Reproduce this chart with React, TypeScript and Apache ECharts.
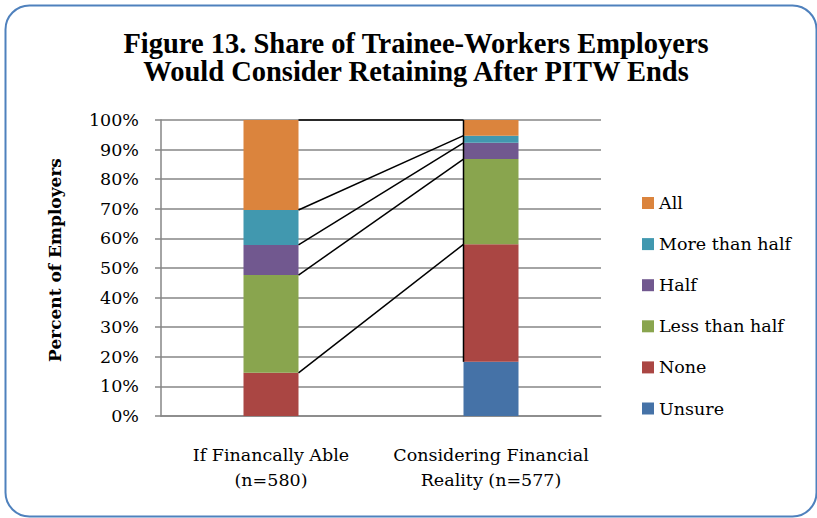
import React, { useEffect, useRef } from "react";
import * as echarts from "echarts";

const categories = ["If Financally Able\n(n=580)", "Considering Financial\nReality (n=577)"];
const seriesNames = ["Unsure", "None", "Less than half", "Half", "More than half", "All"];
const unsure = [0, 18.3];
const none = [14.6, 39.7];
const lessThanHalf = [33.0, 28.8];
const half = [10.2, 5.5];
const moreThanHalf = [11.8, 2.4];
const all = [30.4, 5.3];
const yTicks = ["0%", "10%", "20%", "30%", "40%", "50%", "60%", "70%", "80%", "90%", "100%"];
const colors = ["#4572A7", "#AA4643", "#89A54E", "#71588F", "#4198AF", "#DB843D"];

const FONT = "DejaVu Serif";
const FS = 17.5;

export default function App() {
  const ref = useRef<HTMLDivElement>(null);
  useEffect(() => {
    if (!ref.current) return;
    const chart = echarts.init(ref.current, null, { renderer: "svg" });
    const values = [unsure, none, lessThanHalf, half, moreThanHalf, all];
    const tops: number[][] = [];
    let acc = [0, 0];
    values.forEach((v) => {
      acc = [acc[0] + v[0], acc[1] + v[1]];
      tops.push([...acc]);
    });
    const lineData: number[][] = [];
    for (let i = 1; i < tops.length; i++) {
      lineData.push([0, tops[i][0], 1, tops[i][1]]);
    }
    lineData.push([1, tops[0][1], 1, tops[tops.length - 1][1]]);

    const barSeries = seriesNames.map((name, i) => ({
      name,
      type: "bar" as const,
      stack: "total",
      data: values[i],
      barWidth: "25%",
      itemStyle: { color: colors[i] },
    }));

    chart.setOption({
      animation: false,
      textStyle: { fontFamily: FONT },
      title: {
        text: "Figure 13. Share of Trainee-Workers Employers\nWould Consider Retaining After PITW Ends",
        left: 411,
        textAlign: "center",
        top: 24,
        textStyle: {
          fontFamily: "Liberation Serif",
          fontWeight: "bold",
          fontSize: 28.5,
          lineHeight: 28,
          color: "#000",
        },
      },
      grid: { left: 161, right: 216, top: 120, bottom: 102 },
      legend: {
        orient: "vertical",
        left: 642,
        top: 194,
        padding: 0,
        itemWidth: 12,
        itemHeight: 12,
        itemGap: 23.1,
        data: ["All", "More than half", "Half", "Less than half", "None", "Unsure"],
        textStyle: { fontFamily: FONT, fontSize: FS, color: "#000", lineHeight: 17.5 },
        icon: "rect",
      },
      xAxis: {
        type: "category",
        data: categories,
        axisLine: { lineStyle: { color: "#868686", width: 1.5 } },
        axisTick: { show: false },
        axisLabel: {
          interval: 0,
          color: "#000",
          fontFamily: FONT,
          fontSize: FS,
          lineHeight: 25,
          margin: 26,
        },
      },
      yAxis: {
        type: "value",
        min: 0,
        max: 100,
        interval: 10,
        axisLine: { show: true, lineStyle: { color: "#868686", width: 1.5 } },
        axisTick: { show: true, length: 6, lineStyle: { color: "#868686", width: 1.5 } },
        splitLine: { lineStyle: { color: "#868686", width: 1.5 } },
        axisLabel: {
          color: "#000",
          fontFamily: FONT,
          fontSize: FS,
          margin: 22,
          formatter: (v: number) => yTicks[Math.round(v / 10)],
        },
      },
      series: [
        ...barSeries,
        {
          type: "custom",
          name: "seriesLines",
          data: lineData,
          z: 5,
          silent: true,
          encode: { x: [0, 2], y: [1, 3] },
          renderItem: (params: any, api: any) => {
            const c1 = api.value(0);
            const y1 = api.value(1);
            const c2 = api.value(2);
            const y2 = api.value(3);
            const band = api.size([1, 0])[0];
            const halfW = band * 0.125;
            const p1 = api.coord([c1, y1]);
            const p2 = api.coord([c2, y2]);
            const x1 = p1[0] + (c1 === 0 ? halfW : -halfW);
            const x2 = p2[0] + (c2 === 0 ? halfW : -halfW);
            return {
              type: "line",
              shape: { x1, y1: p1[1], x2, y2: p2[1] },
              style: { stroke: "#000", lineWidth: 1.5 },
            };
          },
        },
      ],
      graphic: [
        {
          type: "rect",
          left: 3,
          top: 3,
          shape: { width: 811, height: 511, r: 24 },
          style: { fill: "none", stroke: "#4F81BD", lineWidth: 2 },
          z: -1,
        },
        {
          type: "text",
          x: 55,
          y: 260,
          rotation: Math.PI / 2,
          style: {
            text: "Percent of Employers",
            fontFamily: FONT,
            fontWeight: "bold",
            fontSize: 17,
            fill: "#000",
            align: "center",
            verticalAlign: "middle",
          },
        },
      ],
    });
    return () => chart.dispose();
  }, []);
  return (
    <div
      ref={ref}
      style={{ position: "fixed", left: 0, top: 0, width: 817, height: 518, background: "#fff" }}
    />
  );
}
